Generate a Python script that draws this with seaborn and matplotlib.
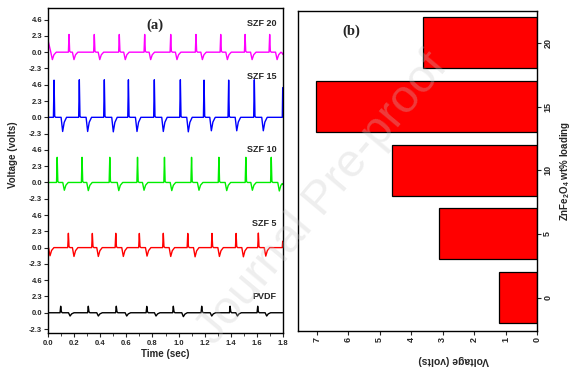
import numpy as np
import pandas as pd
import matplotlib
matplotlib.use("Agg")
import matplotlib.pyplot as plt
import seaborn as sns
from matplotlib.ticker import MultipleLocator

sns.set_theme(style="white")
plt.rcParams['font.family'] = ['Liberation Sans', 'DejaVu Sans']
plt.rcParams['mathtext.default'] = 'regular'

# ---------------- data: panel (a) ----------------
trace_names = ["PVDF", "SZF 5", "SZF 10", "SZF 15", "SZF 20"]
trace_colors = ["#000000", "#ff0000", "#00ee00", "#0000ff", "#ff00ff"]
offset_step = 9.2
ytick_vals = [-2.3, 0.0, 2.3, 4.6]

pvdf_peak_t = [0.095, 0.307, 0.522, 0.756, 0.960, 1.178, 1.396, 1.608]
pvdf_peak_v = [0.92, 0.92, 0.92, 0.90, 0.92, 0.92, 0.92, 0.92]
pvdf_dip_t = [0.167, 0.384, 0.602, 0.827, 1.037, 1.255, 1.452, 1.677]
pvdf_dip_v = [-0.46, -0.46, -0.46, -0.46, -0.55, -0.46, -0.46, -0.46]

szf5_peak_t = [0.154, 0.338, 0.518, 0.699, 0.883, 1.071, 1.257, 1.442, 1.613]
szf5_peak_v = [2.02, 2.0, 2.02, 2.0, 2.02, 2.0, 2.0, 2.0, 2.05]
szf5_dip_t = [0.013, 0.197, 0.384, 0.576, 0.758, 0.940, 1.127, 1.314, 1.498, 1.670]
szf5_dip_v = [-1.15, -1.25, -1.25, -1.25, -1.2, -1.25, -1.3, -1.25, -1.3, -1.2]

szf10_peak_t = [0.068, 0.259, 0.472, 0.685, 0.892, 1.100, 1.310, 1.517, 1.712]
szf10_peak_v = [3.55, 3.55, 3.55, 3.55, 3.55, 3.55, 3.55, 3.55, 3.55]
szf10_dip_t = [0.123, 0.307, 0.541, 0.735, 0.948, 1.157, 1.370, 1.567, 1.774]
szf10_dip_v = [-1.1, -1.15, -1.15, -1.1, -1.15, -1.1, -1.15, -1.1, -1.2]

szf15_peak_t = [0.044, 0.238, 0.430, 0.615, 0.814, 1.014, 1.196, 1.385, 1.582]
szf15_peak_v = [5.25, 5.3, 5.3, 5.3, 5.3, 5.3, 5.25, 5.25, 5.3]
szf15_dip_t = [0.110, 0.302, 0.499, 0.681, 0.883, 1.075, 1.252, 1.447, 1.651]
szf15_dip_v = [-2.0, -2.0, -2.05, -2.0, -2.0, -2.05, -1.9, -1.9, -1.9]

szf20_peak_t = [0.159, 0.353, 0.545, 0.740, 0.940, 1.134, 1.324, 1.511, 1.700]
szf20_peak_v = [2.5, 2.5, 2.5, 2.5, 2.5, 2.5, 2.5, 2.5, 2.5]
szf20_dip_t = [0.031, 0.197, 0.395, 0.591, 0.786, 0.988, 1.183, 1.375, 1.565, 1.757]
szf20_dip_v = [-1.05, -1.05, -1.05, -1.05, -1.05, -1.05, -1.05, -1.05, -1.05, -1.05]

start_v = [0.0, -0.3, 0.0, 0.0, 1.5]     # value at t = 0
end_v = [0.0, 0.9, -0.3, 4.2, -0.3]       # value at t = 1.8

label_rel_y = [2.3, 3.4, 4.6, 5.8, 4.1]  # label heights within each trace band

# ---------------- data: panel (b) ----------------
loading = [0, 5, 10, 15, 20]
voltage = [1.21, 3.12, 4.62, 7.03, 3.63]
volt_ticks = [0, 1, 2, 3, 4, 5, 6, 7]


def build_trace(peak_t, peak_v, dip_t, dip_v, v0, v1):
    pts = [(0.0, v0)]
    for t, v in zip(peak_t, peak_v):
        pts += [(t - 0.005, 0.0), (t, v), (t + 0.005, 0.15), (t + 0.012, 0.0)]
    for t, v in zip(dip_t, dip_v):
        pts += [(t - 0.012, 0.0), (t, v), (t + 0.012, 0.35 * v), (t + 0.03, 0.0)]
    pts = [p for p in pts if 0.0 <= p[0] <= 1.8]
    pts.append((1.797, 0.0 if v1 > 0.5 else v1 * 0.5))
    pts.append((1.8, v1))
    pts.sort(key=lambda p: p[0])
    return pd.DataFrame(pts, columns=["t", "v"])


traces = [
    (pvdf_peak_t, pvdf_peak_v, pvdf_dip_t, pvdf_dip_v),
    (szf5_peak_t, szf5_peak_v, szf5_dip_t, szf5_dip_v),
    (szf10_peak_t, szf10_peak_v, szf10_dip_t, szf10_dip_v),
    (szf15_peak_t, szf15_peak_v, szf15_dip_t, szf15_dip_v),
    (szf20_peak_t, szf20_peak_v, szf20_dip_t, szf20_dip_v),
]

fig = plt.figure(figsize=(5.76, 3.76), dpi=100)
fig.patch.set_facecolor("white")
ax1 = fig.add_axes([0.0839, 0.1136, 0.4069, 0.8644])
ax2 = fig.add_axes([0.5174, 0.1205, 0.4149, 0.8502])

# ---- panel (a)
yticks, ylabels = [], []
for i, (name, col, tr) in enumerate(zip(trace_names, trace_colors, traces)):
    off = i * offset_step
    df = build_trace(*tr, start_v[i], end_v[i])
    df["v"] = df["v"] + off
    sns.lineplot(data=df, x="t", y="v", ax=ax1, color=col, lw=1.0,
                 sort=False, estimator=None)
    for tv in ytick_vals:
        yticks.append(off + tv)
        ylabels.append(f"{tv:.1f}")
    ax1.text(1.75, off + label_rel_y[i], name, ha="right", va="center",
             fontsize=6.5, fontweight="bold")

ax1.set_xlim(0, 1.8)
ax1.set_ylim(-2.9, 43.0)
ax1.set_yticks(yticks)
ax1.set_yticklabels(ylabels)
ax1.xaxis.set_major_locator(MultipleLocator(0.2))
ax1.xaxis.set_minor_locator(MultipleLocator(0.1))
ax1.set_xticklabels([f"{x:.1f}" for x in ax1.get_xticks()])
ax1.set_xlim(0, 1.8)
ax1.tick_params(axis="both", which="major", direction="out", length=3, width=0.8,
                labelsize=5.5, pad=1.5, left=True, bottom=True)
ax1.tick_params(axis="x", which="minor", direction="out", length=1.8, width=0.6, bottom=True)
for lab in ax1.get_xticklabels() + ax1.get_yticklabels():
    lab.set_fontweight("bold")
ax1.set_xlabel("Time (sec)", fontsize=7, fontweight="bold", labelpad=2)
ax1.set_ylabel("Voltage (volts)", fontsize=7, fontweight="bold", labelpad=3)
ax1.yaxis.set_label_coords(-0.13, 0.55)
ax1.text(0.82, 40.6, "(a)", ha="center", va="center", fontsize=10.5,
         fontweight="bold", family=["Liberation Serif", "DejaVu Serif"])
for sp in ax1.spines.values():
    sp.set_linewidth(1.0)
    sp.set_color("black")

# ---- panel (b)
sns.barplot(x=voltage, y=loading, orient="h", native_scale=True, ax=ax2,
            color="#ff0000", saturation=1, edgecolor="black", linewidth=0.9,
            width=0.8)
ax2.set_xlim(7.6, 0)
ax2.set_ylim(-2.6, 22.5)
ax2.set_xticks(volt_ticks)
ax2.set_xticklabels([str(v) for v in volt_ticks], rotation=90)
ax2.set_yticks(loading)
ax2.set_yticklabels([str(v) for v in loading], rotation=90, va="center")
ax2.yaxis.tick_right()
ax2.yaxis.set_label_position("right")
ax2.tick_params(axis="both", direction="out", length=3, width=0.8, labelsize=6.5,
                pad=1.5, bottom=True, right=True, left=False)
for lab in ax2.get_xticklabels() + ax2.get_yticklabels():
    lab.set_fontweight("bold")
ax2.set_xlabel("Voltage (volts)", fontsize=7.5, fontweight="bold", rotation=180,
               labelpad=2)
ax2.xaxis.set_label_coords(0.653, -0.075)
ax2.set_ylabel(r"ZnFe$_2$O$_4$ wt% loading", fontsize=7, fontweight="bold",
               rotation=90, labelpad=4)
ax2.text(5.9, 20.9, "(b)", ha="center", va="center", fontsize=10.5,
         fontweight="bold", family=["Liberation Serif", "DejaVu Serif"])
for sp in ax2.spines.values():
    sp.set_linewidth(1.0)
    sp.set_color("black")

# watermark
fig.text(0.56, 0.47, "Journal Pre-proof", rotation=50, fontsize=34,
         color="#c8c8c8", alpha=0.3, ha="center", va="center", zorder=10)

fig.savefig("out.png", dpi=100, facecolor="white")
